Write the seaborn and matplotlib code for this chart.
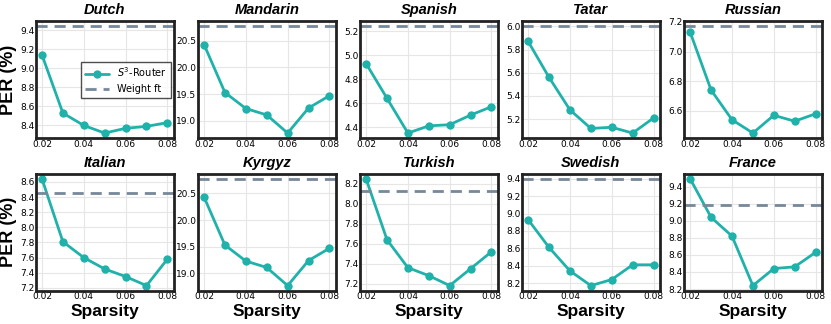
import numpy as np
import pandas as pd
import seaborn as sns
import matplotlib.pyplot as plt
from matplotlib.ticker import MultipleLocator, FormatStrFormatter

sparsity = [0.02, 0.03, 0.04, 0.05, 0.06, 0.07, 0.08]

languages = ["Dutch", "Mandarin", "Spanish", "Tatar", "Russian",
             "Italian", "Kyrgyz", "Turkish", "Swedish", "France"]

dutch = [9.14, 8.53, 8.40, 8.32, 8.37, 8.39, 8.43]
mandarin = [20.43, 19.53, 19.23, 19.11, 18.77, 19.24, 19.47]
spanish = [4.93, 4.64, 4.35, 4.41, 4.42, 4.50, 4.57]
tatar = [5.87, 5.56, 5.28, 5.12, 5.13, 5.08, 5.21]
russian = [7.13, 6.74, 6.54, 6.45, 6.57, 6.53, 6.58]
italian = [8.64, 7.81, 7.60, 7.45, 7.35, 7.23, 7.58]
kyrgyz = [20.43, 19.53, 19.23, 19.11, 18.77, 19.24, 19.47]
turkish = [8.25, 7.64, 7.36, 7.28, 7.18, 7.35, 7.52]
swedish = [8.93, 8.61, 8.34, 8.17, 8.24, 8.41, 8.41]
france = [9.49, 9.04, 8.82, 8.24, 8.44, 8.46, 8.63]

router = [dutch, mandarin, spanish, tatar, russian,
          italian, kyrgyz, turkish, swedish, france]
weight_ft = [9.44, 20.77, 5.24, 6.00, 7.17, 8.46, 20.77, 8.13, 9.40, 9.18]

# y tick spacing per panel
ytick_step = [0.2, 0.5, 0.2, 0.2, 0.2, 0.2, 0.5, 0.2, 0.2, 0.2]

sns.set_theme(style="whitegrid")
plt.rcParams["font.family"] = ["DejaVu Sans"]
plt.rcParams.update({"text.color": "black", "axes.labelcolor": "black",
                     "xtick.color": "black", "ytick.color": "black"})
HEAD = "Liberation Sans"

fig, axes = plt.subplots(2, 5, figsize=(8.31, 3.24), dpi=100)
fig.subplots_adjust(left=0.043, right=0.989, top=0.935, bottom=0.102,
                    wspace=0.175, hspace=0.30)

for i, ax in enumerate(axes.flat):
    df = pd.DataFrame({"Sparsity": sparsity, "PER": router[i]})
    sns.lineplot(data=df, x="Sparsity", y="PER", ax=ax, color="#20b2aa",
                 marker="o", markersize=6, markeredgewidth=0, linewidth=2,
                 label="$S^3$-Router")
    ax.axhline(weight_ft[i], color="#778899", linestyle="--", linewidth=2,
               dashes=(4, 2.5), label="Weight ft")
    ax.set_title(languages[i], fontsize=10.5, fontweight="bold",
                 fontstyle="italic", family=HEAD, pad=5)
    ax.set_xticks([0.02, 0.04, 0.06, 0.08])
    ax.yaxis.set_major_locator(MultipleLocator(ytick_step[i]))
    ax.yaxis.set_major_formatter(FormatStrFormatter("%.1f"))
    ax.tick_params(labelsize=6.5, pad=1, length=0)
    ax.grid(True, color="#e6e6e6", linewidth=0.8)
    for s in ax.spines.values():
        s.set_color("#222222")
        s.set_linewidth(2)
    if i % 5 == 0:
        ax.set_ylabel("PER (%)", fontsize=13, fontweight="bold",
                      family=HEAD, labelpad=2)
    else:
        ax.set_ylabel("")
    if i >= 5:
        ax.set_xlabel("Sparsity", fontsize=12.5, fontweight="bold",
                      family=HEAD, labelpad=2)
    else:
        ax.set_xlabel("")
    if i == 0:
        leg = ax.legend(loc="center right", fontsize=7, frameon=True,
                        fancybox=False, handlelength=2.5,
                        borderaxespad=0.3, bbox_to_anchor=(1.0, 0.50))
        leg.get_frame().set_edgecolor("#222222")
        leg.get_frame().set_linewidth(1)
    elif ax.get_legend() is not None:
        ax.get_legend().remove()

fig.savefig("out.png", dpi=100)
